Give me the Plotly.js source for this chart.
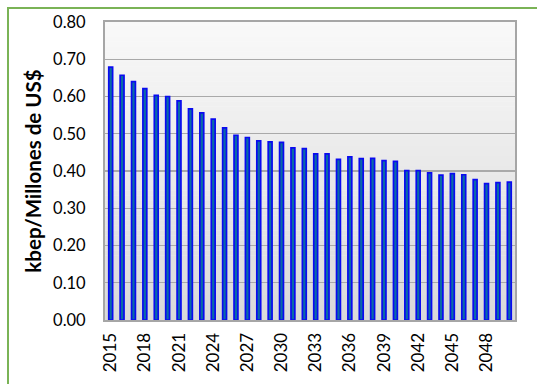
<!DOCTYPE html>
<html>
<head>
<meta charset="utf-8">
<script src="https://cdn.plot.ly/plotly-3.0.1.min.js"></script>
<style>
  html, body { margin: 0; padding: 0; background: #ffffff; }
  #wrap { position: relative; width: 537px; height: 384px; }
  #chart { width: 537px; height: 384px; }
  #frame { position: absolute; left: 7px; top: 7px; width: 540px; height: 390px;
           border-left: 2px solid #7ab356; border-top: 2px solid #7ab356; pointer-events: none; }
</style>
</head>
<body>
<div id="wrap">
  <div id="chart"></div>
  <div id="frame"></div>
</div>
<script>
const years = [2015,2016,2017,2018,2019,2020,2021,2022,2023,2024,2025,2026,2027,2028,2029,2030,2031,2032,
               2033,2034,2035,2036,2037,2038,2039,2040,2041,2042,2043,2044,2045,2046,2047,2048,2049,2050];
const intensity = [0.679,0.657,0.640,0.621,0.603,0.600,0.588,0.567,0.556,0.539,0.516,0.496,0.490,0.481,0.478,0.477,0.462,0.460,
                   0.446,0.446,0.431,0.438,0.433,0.434,0.428,0.426,0.401,0.401,0.395,0.389,0.393,0.390,0.377,0.366,0.369,0.370];
const yTickVals = [0,0.1,0.2,0.3,0.4,0.5,0.6,0.7,0.8];
const yTickText = ["0.00","0.10","0.20","0.30","0.40","0.50","0.60","0.70","0.80"];
const yTitle = "kbep/Millones de US$";

// vertical gradient for the plot area
const shapes = [];
const N = 60;
const gradTop = [249, 249, 249], gradBot = [217, 217, 217];
for (let i = 0; i < N; i++) {
  const t = (i + 0.5) / N;
  const c = gradTop.map((v, k) => Math.round(v + (gradBot[k] - v) * t));
  shapes.push({
    type: 'rect', xref: 'x domain', yref: 'y domain', layer: 'below',
    x0: 0, x1: 1, y0: 1 - (i + 1) / N, y1: 1 - i / N + 0.001,
    fillcolor: `rgb(${c[0]},${c[1]},${c[2]})`, line: { width: 0 }
  });
}

const trace = {
  type: 'bar', x: years, y: intensity, width: 0.34,
  marker: { color: '#0a6aa6', line: { color: '#0a0af0', width: 1.7 } },
  hoverinfo: 'x+y'
};

const layout = {
  width: 537, height: 384,
  margin: { l: 105, r: 22, t: 22, b: 64, pad: 0 },
  paper_bgcolor: '#ffffff', plot_bgcolor: 'rgba(0,0,0,0)',
  showlegend: false,
  font: { family: 'Lato, "Liberation Sans", sans-serif', color: '#000000', size: 16 },
  shapes: shapes,
  xaxis: {
    range: [2014.5, 2050.5], tickmode: 'linear', tick0: 2015, dtick: 3,
    tickangle: -90, tickfont: { size: 17 }, ticks: '', showgrid: false, ticklabelstandoff: 4,
    showline: true, mirror: true, linecolor: '#a6a6a6', linewidth: 2, zeroline: false
  },
  yaxis: {
    range: [0, 0.8], tickvals: yTickVals, ticktext: yTickText, tickfont: { size: 16.5 },
    ticks: '', showgrid: true, gridcolor: '#a9a9a9', gridwidth: 1.4, ticklabelstandoff: 14,
    showline: true, mirror: true, linecolor: '#a6a6a6', linewidth: 2, zeroline: false,
    title: { text: '<b>' + yTitle + '</b>', font: { size: 20.5 }, standoff: 6 }
  }
};

Plotly.newPlot('chart', [trace], layout, { displayModeBar: false, staticPlot: true });
</script>
</body>
</html>
